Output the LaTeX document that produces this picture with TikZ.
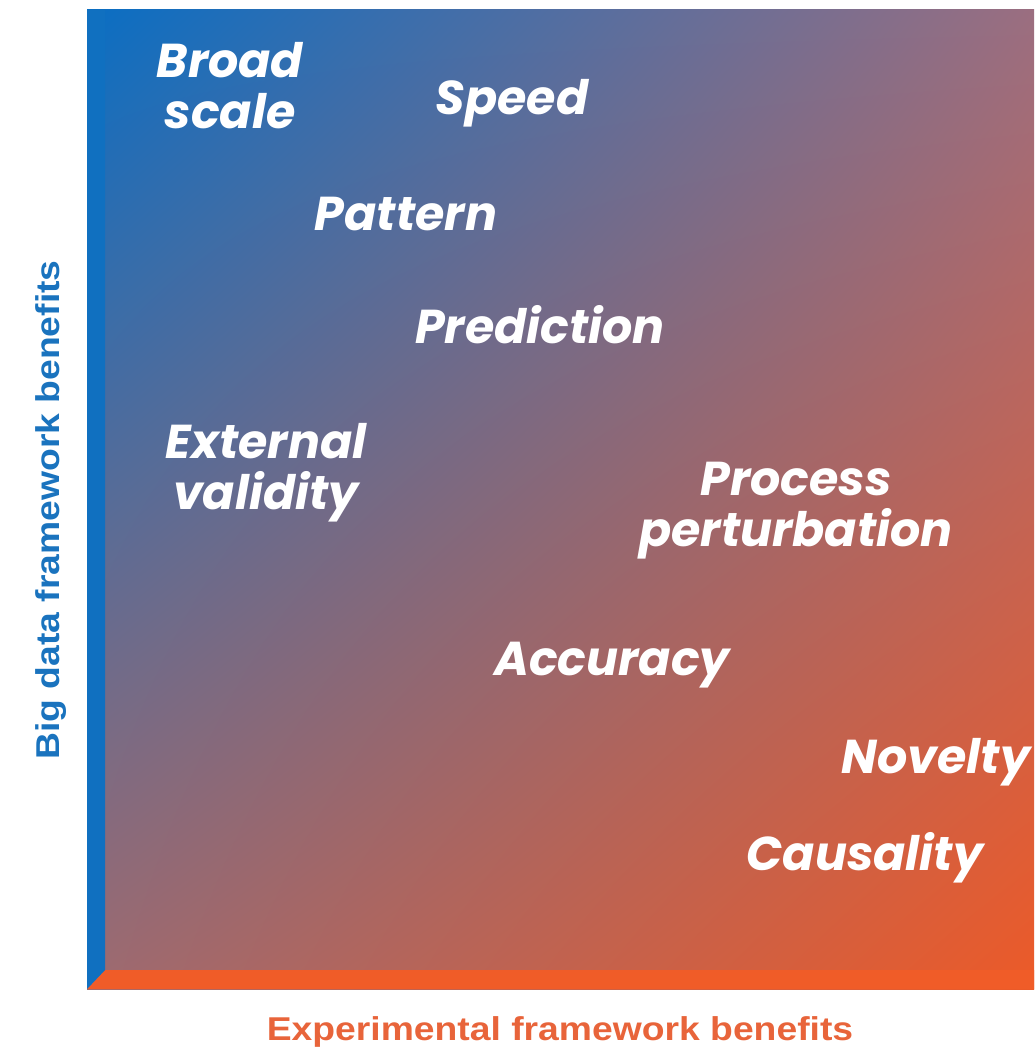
\documentclass[tikz,border=0pt]{standalone}
\usepackage{fontspec}
\usetikzlibrary{shadings}
\setmainfont{Liberation Sans}
\newfontfamily\labfont{Poppins}
\newfontfamily\axfont{Liberation Sans}[FakeStretch=1.13]
\definecolor{cUL}{RGB}{10,110,195}
\definecolor{cUR}{RGB}{155,110,128}
\definecolor{cLL}{RGB}{158,106,112}
\definecolor{cLR}{RGB}{236,90,40}
\definecolor{barblue}{RGB}{16,112,192}
\definecolor{barorange}{RGB}{240,92,40}
\definecolor{axblue}{RGB}{26,115,190}
\definecolor{axorange}{RGB}{232,100,58}
\tikzset{
  benefit/.style={text=white, align=center, inner sep=0pt,
    font=\labfont\bfseries\itshape\fontsize{47.5}{51}\selectfont},
  axislabel/.style={inner sep=0pt, font=\axfont\bfseries\fontsize{33}{36}\selectfont}
}
\begin{document}
\begin{tikzpicture}[x=1pt,y=-1pt]
\useasboundingbox (0,0) rectangle (1034,1049);
\shade[upper left=cUL, upper right=cUR, lower left=cLL, lower right=cLR]
  (87,10) rectangle (1034,989);
\fill[barorange] (87,989) -- (1034,989) -- (1034,970) -- (105,970) -- cycle;
\fill[barblue] (87,10) -- (105,10) -- (105,970) -- (87,989) -- cycle;
\node[benefit] (broad) at (230,86) {Broad\\scale};
\node[benefit] (speed) at (512,103) {Speed};
\node[benefit] (pattern) at (406,214) {Pattern};
\node[benefit] (prediction) at (540,325) {Prediction};
\node[benefit] (external) at (266,473) {External\\validity};
\node[benefit] (process) at (796,511) {Process\\perturbation};
\node[benefit] (accuracy) at (612,665) {Accuracy};
\node[benefit] (novelty) at (936,762) {Novelty};
\node[benefit] (causality) at (865,858) {Causality};
\node[axislabel, text=axorange] (xlab) at (560,1032) {Experimental framework benefits};
\node[axislabel, text=axblue, rotate=90] (ylab) at (51,510) {Big data framework benefits};
\end{tikzpicture}
\end{document}
